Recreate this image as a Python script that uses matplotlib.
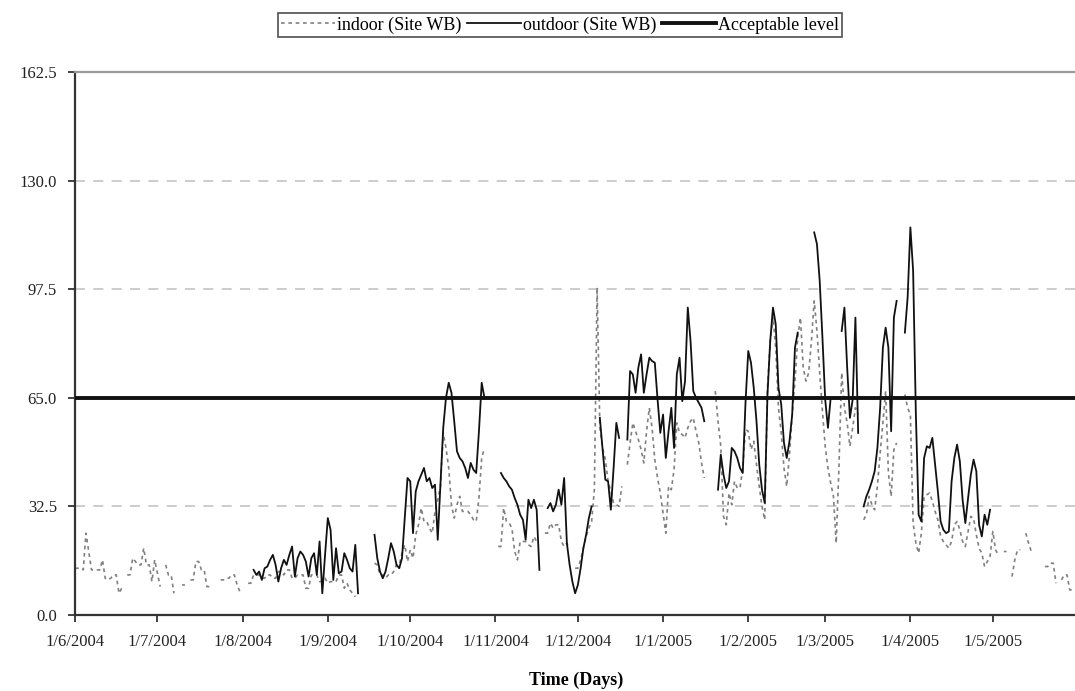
import numpy as np
import pandas as pd
import matplotlib
matplotlib.use("Agg")
import matplotlib.pyplot as plt
from matplotlib.lines import Line2D

N = None
# ---------------- data (daily values, None = missing) ----------------
indoor_jun = [14,14,14,13.5,24.5,19,13.5,13.5,13.5,13.5,16.5,11,10.5,11,12,12,6.5,8,N,12,12,17,16,15,15,20,15,15,10,16.5]
indoor_jul = [12.5,8.5,N,15,12,12,6.5,N,N,9,9,N,10.5,10.5,16,16,13.5,13.5,8.5,8.5,N,N,N,10.5,10.5,11,11,12,12,9,7]
indoor_aug = [7,N,9.5,9.5,12,12,12,11,11,12,12,11,11,13,13,12,13.5,13.5,11,11,12,12,12,8,8,12,12,12,10,10,11]
indoor_sep = [9.5,10,10,10,12,12,8,9.5,7.5,6.5,5.5,N,N,N,N,N,N,15.5,15,12,12,11,12,12,13,15,15,18.5,21,16]
indoor_oct = [19.5,17,24,27,32,28,28,26,24.5,31,34.5,38.5,54.5,50,44,33,29,33,35.5,31,31,31,30,28.5,28,35,47,50,N,N,N]
indoor_nov = [N,20.5,20.5,32,28,27.5,26,19,16.5,22,22,22,21,20.5,23.5,22,N,N,24.5,24.5,27.5,26,27,27,22,20.5,21.5,20,N,14]
indoor_dec = [14,16.5,20,23.5,26,28,37.5,98,56,50,46.5,40,37,33.5,33,32.5,38.5,N,45,51.5,57.5,55,52.5,49.5,45.5,55,62,56,46.5,41,36.5]
indoor_jan = [30.5,24.5,38.5,37.5,43.5,57.5,54.5,54,53,56,58,59,55,51.5,45.5,41,N,N,N,67,58,50.5,29.5,27,36.5,33,40,38,38,44,55.5]
indoor_feb = [55,49.5,52,45,38.5,32.5,28.5,68,82,89,80,62,54.5,44,38.5,48,60,70,83,89,74,70,72.5,82,94,85,72.5,61]
indoor_mar = [50.5,44,39.5,35.5,21.5,44,72.5,62,57.5,50.5,56,62,60,N,28.5,30,35.5,33,31.5,38.5,48.5,57.5,67,42.5,35.5,49.5,51.5,N,N,66,62]
indoor_apr = [60,27.5,21.5,18.5,24.5,35.5,36,36.5,34,31,28.5,23.5,22,21,20,22,27,28,25.5,22,20.5,25,29.5,29,24,20,18.5,14.5,16,17.5]
indoor_may = [25,19.5,18,N,19,19,N,11.5,16.5,19.5,19.5,N,24.5,21.5,19,19,N,N,N,14.5,14.5,15.5,15.5,9.5,N,10.5,12,12,7.5,7.5,N]

outdoor_jun = [N] * 30
outdoor_jul = [N] * 31
outdoor_aug = [N,N,N,N,13.5,12,13,10.5,14,14.5,16.5,18,15,10,14,16.5,15,18,20.5,11.5,17,19,18,16,11.5,17,18.5,12,22,6.5,18]
outdoor_sep = [29,25.5,10.5,20,12.5,13,18.5,16.5,14,13,21,6.5,N,N,N,N,N,24,17,13,11,13,17,21.5,19,15,14,17,29,41]
outdoor_oct = [40,24.5,37,40,42,44,40,41,38,39,22.5,39.5,56,65,69.5,66.5,58,49,47,46,44,41,45.5,43.5,42.5,55,69.5,65,N,N,N]
outdoor_nov = [N,N,42.5,41,40,38.5,37.5,35,33,30,28.5,22.5,34.5,32,34.5,31.5,13.5,N,N,32,33.5,31,33,37.5,33,41,21.5,15,10,6.5]
outdoor_dec = [9,14,20,24,29,32.5,N,N,59,49.5,40.5,40,31.5,44,57.5,53,N,N,52.5,73,72,66.5,74,78,66.5,72,77,76,75.5,64.5,54.5]
outdoor_jan = [60,47,55,62,50,72,77,64,70,92,82,67,65,63.5,62,58,N,N,N,N,37.5,48,42,38,40,50,49,47,44,42.5,63.5]
outdoor_feb = [79,75.5,68,58,45,37.5,33.5,66,82,92,87,68,63,51.5,47,52,60,80,84.5,N,N,N,N,N,114.5,111,100,83]
outdoor_mar = [64.5,56,65,N,N,N,85,92,74,59,64.5,89,54.5,N,32.5,35.5,37.5,40,43,50,62,80,86,80,55,89,94,N,N,84.5,95]
outdoor_apr = [116,103,60,30,28,47,50.5,50,53,45,37,28,25.5,24.5,25,40,47,51,46,34.5,27.5,35,42,46.5,43,27,23.5,30,27,31.5]
outdoor_may = [N] * 31

acceptable_level = 65.0
y_ticks = [0.0, 32.5, 65.0, 97.5, 130.0, 162.5]
start_date = "2004-06-01"
end_date = "2005-05-31"

indoor_months = [indoor_jun, indoor_jul, indoor_aug, indoor_sep, indoor_oct, indoor_nov,
                 indoor_dec, indoor_jan, indoor_feb, indoor_mar, indoor_apr, indoor_may]
outdoor_months = [outdoor_jun, outdoor_jul, outdoor_aug, outdoor_sep, outdoor_oct, outdoor_nov,
                  outdoor_dec, outdoor_jan, outdoor_feb, outdoor_mar, outdoor_apr, outdoor_may]


def to_arr(months):
    vals = [np.nan if v is None else v for m in months for v in m]
    return np.array(vals, dtype=float)


dates = pd.date_range(start_date, end_date, freq="D")
indoor = to_arr(indoor_months)
outdoor = to_arr(outdoor_months)
assert len(indoor) == len(dates) and len(outdoor) == len(dates)

# ---------------- figure ----------------
plt.rcParams["font.family"] = ["Liberation Serif", "DejaVu Serif"]
fig = plt.figure(figsize=(10.75, 6.91), dpi=100)
W, H = 1075, 691
x0, x1 = 75, 1078
y_top, y_bot = 72, 615
ax = fig.add_axes([x0 / W, 1 - y_bot / H, (x1 - x0) / W, (y_bot - y_top) / H])

ax.set_xlim(pd.Timestamp("2004-06-01"), pd.Timestamp("2005-06-01"))
ax.set_ylim(0, 162.5)

for yv in [32.5, 65.0, 97.5, 130.0]:
    ax.axhline(yv, color="#c4c4c4", lw=1.2, dashes=(6, 5), zorder=1)

ax.plot(dates, indoor, color="#808080", lw=1.2, dashes=(2.2, 2.2), zorder=2,
        label="indoor (Site WB)")
ax.plot(dates, outdoor, color="#111111", lw=1.3, zorder=3, label="outdoor (Site WB)")
ax.axhline(acceptable_level, color="#111111", lw=2.8, zorder=4, label="Acceptable level")

ax.set_yticks(y_ticks)
ax.set_yticklabels([f"{v:.1f}" for v in y_ticks])
month_ticks = pd.date_range("2004-06-01", "2005-05-01", freq="MS")
ax.set_xticks(month_ticks)
ax.set_xticklabels([f"{d.day}/{d.month}/{d.year}" for d in month_ticks])

ax.tick_params(axis="both", labelsize=12, colors="#222222", direction="out",
               length=5, width=1.2)
ax.tick_params(axis="x", pad=9)
ax.tick_params(axis="y", pad=8)

for s in ["left", "bottom"]:
    ax.spines[s].set_color("#333333")
    ax.spines[s].set_linewidth(1.6)
ax.spines["top"].set_color("#9a9a9a")
ax.spines["top"].set_linewidth(1.6)
ax.spines["right"].set_visible(False)

ax.set_xlabel("Time (Days)", fontsize=13, fontweight="bold", labelpad=15)

handles = [
    Line2D([], [], color="#808080", lw=1.2, dashes=(2.2, 2.2)),
    Line2D([], [], color="#111111", lw=1.3),
    Line2D([], [], color="#111111", lw=2.8),
]
labels = ["indoor (Site WB)", "outdoor (Site WB)", "Acceptable level"]
leg = fig.legend(handles, labels, loc="center", bbox_to_anchor=(560 / W, 1 - 25 / H),
                 ncol=3, frameon=True, fancybox=False, edgecolor="#222222",
                 fontsize=13, handlelength=3.0, handletextpad=0.1, columnspacing=0.3,
                 borderpad=0.2, borderaxespad=0)
leg.get_frame().set_linewidth(1.2)

fig.savefig("out.png", dpi=100)
